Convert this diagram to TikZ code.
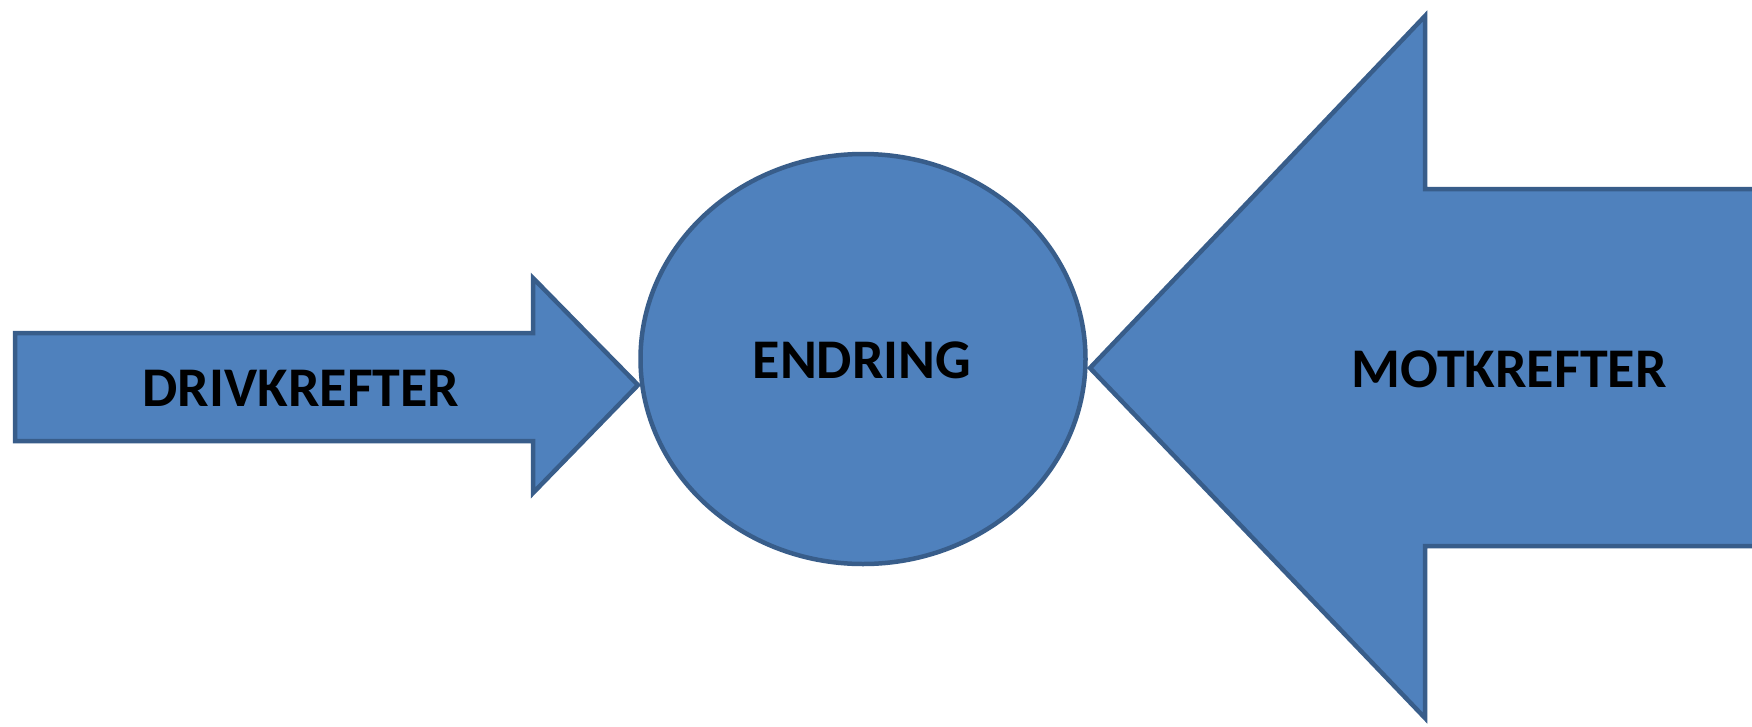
\documentclass[tikz,border=0pt]{standalone}
\usepackage{fontspec}
\setmainfont{Carlito}
\usetikzlibrary{shapes.geometric}
\definecolor{shapefill}{HTML}{4F81BD}
\definecolor{shapeline}{HTML}{385D8A}
\tikzset{
  blueshape/.style={fill=shapefill, draw=shapeline, line width=4.5pt, line join=miter},
  lbl/.style={font=\fontsize{56}{64}\selectfont\bfseries, text=black, inner sep=0pt}
}
\begin{document}
\begin{tikzpicture}[x=1pt,y=-1pt]
\useasboundingbox (0,0) rectangle (1752,726);
\clip (0,0) rectangle (1752,726);
\fill[white] (0,0) rectangle (1752,726);
% left arrow
\draw[blueshape] (15,333) -- (533,333) -- (533,278) -- (638,385) -- (533,493) -- (533,441) -- (15,441) -- cycle;
\node[lbl] (drive) at (301,388) {DRIVKREFTER};
% circle
\node[blueshape, ellipse, minimum width=445pt, minimum height=410pt, inner sep=0pt] (endring) at (863,359) {};
\node[lbl] (endringtxt) at (862,360) {ENDRING};
% right arrow
\draw[blueshape] (1090,368) -- (1425,16) -- (1425,189) -- (1770,189) -- (1770,546) -- (1425,546) -- (1425,718) -- cycle;
\node[lbl] (mot) at (1509,369) {MOTKREFTER};
\end{tikzpicture}
\end{document}
